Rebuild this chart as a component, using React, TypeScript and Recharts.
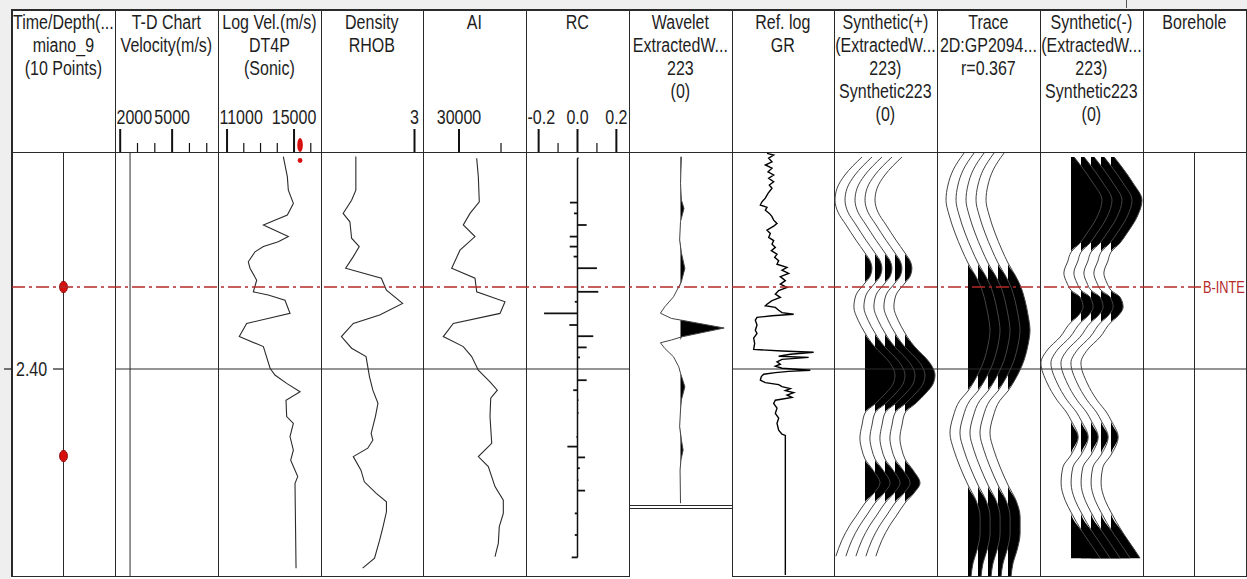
import {
  Area,
  ComposedChart,
  Line,
  ReferenceDot,
  ReferenceLine,
  XAxis,
  YAxis,
} from 'recharts';
import type { ReactNode } from 'react';

// column edges of the well-tie display, left to right
const COL_X = [12, 115, 218, 321, 423, 526, 629, 732, 834, 937, 1040, 1143, 1246];
const HEADER_TOP = 10;
const PLOT_TOP = 152;
const PLOT_BOTTOM = 576;
const WAVELET_BOTTOM = 505;

const FONT = "'Liberation Sans', Arial, sans-serif";
const SQUEEZE = 0.8; // condensed look of the log headers
const INK = '#1e1e1e';
const RULE = '#2a2a2a';
const HORIZON_RED = '#b52a2a';

// two-way time in ms
const TIME_DOMAIN: [number, number] = [2345.75, 2451.75];
const TIME_TICKS = [2400];
const WAVELET_DOMAIN: [number, number] = [-44, 44.25];

const TRACK_TITLES = [
  ['Time/Depth(...', 'miano_9', '(10 Points)'],
  ['T-D Chart', 'Velocity(m/s)'],
  ['Log Vel.(m/s)', 'DT4P', '(Sonic)'],
  ['Density', 'RHOB'],
  ['AI'],
  ['RC'],
  ['Wavelet', 'ExtractedW...', '223', '(0)'],
  ['Ref. log', 'GR'],
  ['Synthetic(+)', '(ExtractedW...', '223)', 'Synthetic223', '(0)'],
  ['Trace', '2D:GP2094...', 'r=0.367'],
  ['Synthetic(-)', '(ExtractedW...', '223)', 'Synthetic223', '(0)'],
  ['Borehole'],
];

type Scale = { domain: [number, number]; major: number[]; minor: number[]; digits: number };

const TD_SCALE: Scale = { domain: [1700, 7650], major: [2000, 5000], minor: [3000, 4000, 6000, 7000], digits: 0 };
const VEL_SCALE: Scale = { domain: [10460, 16610], major: [11000, 15000], minor: [12000, 13000, 14000, 16000], digits: 0 };
const RHOB_SCALE: Scale = { domain: [1.9, 3.1], major: [3], minor: [], digits: 0 };
const AI_SCALE: Scale = { domain: [21430, 45950], major: [30000], minor: [40000], digits: 0 };
const RC_SCALE: Scale = { domain: [-0.265, 0.265], major: [-0.2, 0, 0.2], minor: [-0.1, 0.1], digits: 1 };

// checkshot (T-D) points inside the window and the interval velocity
const TD_TIME = [2379.5, 2421.75];
const TD_VELOCITY = 2570;
const SONIC_PICK = 15360;

const HORIZON = { time: 2379.5, name: 'B-INTE' };

// [time ms, value]
const DT4P: [number, number][] = [
  [2346.9, 14360], [2351.9, 14600], [2355.3, 14660], [2358.6, 14960], [2361.5, 14600], [2364.0, 13170],
  [2366.9, 14660], [2368.2, 14060], [2369.4, 13170], [2370.7, 12670], [2373.2, 12270], [2374.8, 12370],
  [2377.8, 12770], [2380.7, 12570], [2381.5, 13460], [2382.8, 14460], [2386.1, 14760], [2388.6, 12170],
  [2391.9, 11730], [2394.4, 13170], [2399.8, 13570], [2401.5, 13860], [2403.6, 14560], [2405.7, 15360],
  [2407.8, 14520], [2411.9, 14560], [2413.6, 14960], [2416.9, 14760], [2420.3, 14960], [2422.8, 14800],
  [2426.9, 15220], [2428.6, 15060], [2429.4, 15060], [2449.8, 15120],
];

const RHOB: [number, number][] = [
  [2346.9, 2.31], [2355.3, 2.31], [2357.8, 2.26], [2361.1, 2.16], [2363.2, 2.24], [2367.3, 2.26],
  [2369.4, 2.35], [2371.9, 2.28], [2374.8, 2.19], [2377.3, 2.61], [2380.3, 2.67], [2383.6, 2.86],
  [2386.5, 2.59], [2388.6, 2.28], [2391.9, 2.14], [2394.8, 2.26], [2396.9, 2.43], [2401.9, 2.47],
  [2405.3, 2.51], [2408.6, 2.57], [2411.9, 2.54], [2416.1, 2.49], [2417.8, 2.51], [2419.8, 2.45],
  [2421.9, 2.28], [2425.3, 2.37], [2428.2, 2.41], [2431.1, 2.55], [2433.2, 2.67], [2435.7, 2.67],
  [2439.4, 2.63], [2442.8, 2.59], [2447.3, 2.53], [2449.8, 2.39],
];

const AI: [number, number][] = [
  [2347.3, 34210], [2351.9, 34600], [2358.2, 34830], [2361.1, 32620], [2364.0, 31020], [2366.9, 33810],
  [2370.3, 30240], [2374.8, 28260], [2377.3, 33810], [2380.7, 34210], [2383.2, 40950], [2386.1, 39760],
  [2388.6, 28640], [2391.9, 26260], [2394.4, 31020], [2396.9, 33020], [2400.3, 34600], [2403.2, 37380],
  [2405.3, 39120], [2407.3, 37550], [2411.9, 37380], [2418.6, 37790], [2421.9, 34600], [2424.4, 36980],
  [2429.4, 38570], [2432.8, 40550], [2436.1, 40550], [2439.4, 39590], [2443.6, 39360], [2446.9, 38570],
];

const RC: [number, number][] = [
  [2347.3, 0.005], [2358.4, -0.039], [2361.1, -0.018], [2364.0, 0.047], [2366.9, -0.04], [2369.4, -0.04],
  [2371.9, -0.02], [2374.8, 0.1], [2380.7, 0.107], [2383.2, -0.014], [2386.1, -0.172], [2389.0, -0.042],
  [2391.8, 0.081], [2394.6, 0.047], [2397.1, 0.013], [2402.8, 0.047], [2405.3, -0.022], [2407.8, 0.005],
  [2411.0, 0.005], [2417.0, -0.005], [2419.4, -0.052], [2422.1, 0.039], [2424.8, 0.012], [2427.8, 0.005],
  [2430.4, 0.039], [2436.1, -0.014], [2441.5, -0.014], [2447.1, -0.03],
];

// [lag ms, normalised amplitude]
const WAVELET: [number, number][] = [
  [-42.8, 0.02], [-36.2, 0], [-32, 0.02], [-29.9, 0.08], [-26.6, 0], [-22, -0.02], [-18.8, 0.02],
  [-14.9, 0.1], [-11.6, 0.02], [-10.3, -0.04], [-7.8, -0.16], [-5.3, -0.36], [-3.7, -0.46], [-2.4, -0.21],
  [-2, 0], [0, 1.0], [2.2, 0.03], [3, -0.21], [3.7, -0.46], [5.1, -0.36], [7.2, -0.16], [9.7, -0.04],
  [11.3, 0], [14.7, 0.1], [18, 0.02], [20.5, 0], [24.7, -0.02], [28, 0.02], [30.5, 0.06], [33, 0.01],
  [35.5, -0.01], [43.8, 0],
];

const GR_LOG: [number, number][] = [
  [2346.1, 52.5], [2346.5, 62.5], [2347.3, 55], [2348.2, 60], [2349.0, 50], [2349.8, 60], [2350.7, 54],
  [2351.5, 62.5], [2352.3, 55], [2353.2, 62.5], [2354.0, 56], [2354.8, 60], [2356.1, 54], [2357.3, 50],
  [2358.2, 45], [2359.0, 42.5], [2359.6, 52.5], [2360.3, 50], [2361.1, 56], [2361.9, 60], [2362.8, 62.5],
  [2363.6, 67.5], [2364.3, 62.5], [2365.3, 52.5], [2366.1, 57.5], [2367.1, 55], [2367.9, 62.5], [2368.8, 60],
  [2369.6, 65], [2370.4, 59], [2371.3, 67.5], [2372.1, 64], [2372.9, 70], [2373.8, 67.5], [2374.6, 82.5],
  [2375.3, 75], [2376.1, 85], [2376.9, 72.5], [2377.9, 80], [2378.8, 72.5], [2379.6, 82.5], [2380.4, 70],
  [2381.3, 65], [2382.1, 72.5], [2382.9, 60], [2383.8, 52.5], [2384.2, 50], [2384.6, 65], [2385.3, 70],
  [2385.9, 75], [2386.3, 92.5], [2386.7, 60], [2387.1, 37.5], [2387.8, 35], [2389.0, 37.5], [2390.3, 35],
  [2391.1, 37.5], [2392.3, 32.5], [2393.6, 34], [2395.1, 32.5], [2395.5, 75], [2395.8, 122.5], [2396.3, 87.5],
  [2396.8, 70], [2397.1, 115], [2397.6, 75], [2398.2, 67.5], [2398.8, 72.5], [2399.3, 65], [2399.8, 75],
  [2400.3, 117.5], [2400.6, 85], [2400.9, 65], [2401.3, 47.5], [2401.9, 44], [2402.8, 42.5], [2403.4, 50],
  [2403.9, 70], [2404.4, 75], [2404.9, 87.5], [2405.4, 80], [2405.9, 92.5], [2406.5, 82.5], [2407.1, 90],
  [2407.8, 65], [2408.6, 62.5], [2409.8, 67.5], [2411.1, 65], [2412.3, 70], [2413.6, 67.5], [2415.3, 70],
  [2416.3, 75], [2416.6, 80], [2451.5, 80],
];

const SYNTHETIC_POS: [number, number][] = [
  [2347.0, -0.1], [2351.5, -0.67], [2354.8, -0.93], [2357.8, -1.0], [2360.8, -0.9], [2364.0, -0.63],
  [2367.8, -0.3], [2371.0, 0], [2373.0, 0.17], [2374.8, 0.23], [2376.8, 0.17], [2378.5, 0], [2381.5, -0.3],
  [2384.5, -0.37], [2387.8, -0.23], [2391.0, 0], [2393.3, 0.2], [2395.3, 0.43], [2397.3, 0.7], [2399.3, 0.9],
  [2401.5, 1.0], [2403.8, 0.93], [2406.0, 0.7], [2408.5, 0.37], [2411.0, 0], [2414.0, -0.1], [2417.3, -0.17],
  [2420.3, -0.1], [2422.5, 0], [2425.3, 0.27], [2428.5, 0.5], [2431.0, 0.3], [2433.5, 0], [2436.5, -0.27],
  [2439.0, -0.5], [2442.8, -0.77], [2446.8, -0.97],
];

const SEISMIC_TRACE: [number, number][] = [
  [2346.0, -0.18], [2350.3, -0.68], [2354.0, -0.91], [2357.8, -1.0], [2361.5, -0.86], [2366.0, -0.59],
  [2370.3, -0.27], [2373.5, 0], [2376.5, 0.32], [2379.0, 0.55], [2382.8, 0.77], [2386.5, 0.91],
  [2390.3, 1.0], [2394.0, 0.91], [2397.8, 0.73], [2400.8, 0.5], [2403.5, 0.23], [2405.5, 0],
  [2407.8, -0.36], [2412.0, -0.68], [2416.0, -0.82], [2420.3, -0.64], [2424.5, -0.36], [2429.0, 0],
  [2432.8, 0.36], [2437.0, 0.55], [2441.0, 0.55], [2445.3, 0.41], [2448.5, 0.23], [2451.8, 0.14],
];

const SYNTHETIC_NEG: [number, number][] = [
  [2347.0, 0.1], [2349.5, 0.35], [2353.5, 0.71], [2357.8, 1.0], [2362.0, 0.84], [2366.0, 0.52],
  [2368.5, 0.29], [2370.8, 0], [2373.0, -0.1], [2376.0, -0.23], [2378.5, -0.13], [2380.3, 0],
  [2382.0, 0.29], [2384.5, 0.39], [2387.0, 0.19], [2388.3, 0], [2392.0, -0.35], [2395.3, -0.77],
  [2398.5, -0.97], [2403.5, -0.77], [2407.8, -0.45], [2411.0, -0.13], [2412.8, 0], [2417.0, 0.23],
  [2421.5, 0], [2424.5, -0.26], [2428.5, -0.32], [2432.8, -0.19], [2435.8, 0], [2441.0, 0.39],
  [2445.3, 0.77], [2447.3, 0.94],
];

// wiggle display: pixels per unit amplitude for each panel
const SYN_POS_GAIN = 30;
const TRACE_GAIN = 22;
const SYN_NEG_GAIN = 31;
const TRACE_COUNT = 5;
const TRACE_GAP_PX = 10;
const FIRST_TRACE_PX = 31;

const rows = (pts: [number, number][]) => pts.map(([t, v]) => ({ t, v }));

const textWidth = (s: string, size: number) =>
  [...s].reduce((w, c) => w + (c === '.' ? 0.278 : c === '-' ? 0.333 : 0.556), 0) * size * SQUEEZE;

function scaleTick(scale: Scale, width: number) {
  return (p: any) => {
    const v = p.payload.value;
    const major = scale.major.includes(v);
    const label = Number(v).toFixed(scale.digits);
    const w = textWidth(label, 20);
    const x0 = Math.min(Math.max(p.x - w / 2, 1.5), width - 1.5 - w);
    return (
      <g>
        <line x1={p.x} x2={p.x} y1={p.y} y2={p.y - (major ? 23 : 9)} stroke="#111" strokeWidth={major ? 2 : 1.2} />
        {major && (
          <text transform={`translate(${x0} ${p.y - 28}) scale(${SQUEEZE} 1)`} fontFamily={FONT} fontSize={20} fill={INK}>
            {label}
          </text>
        )}
      </g>
    );
  };
}

const timeTick = (p: any) => (
  <g>
    <line x1={p.x} x2={p.x + 8} y1={p.y} y2={p.y} stroke={INK} strokeWidth={1.2} />
    <text transform={`translate(${p.x + 12} ${p.y + 7}) scale(${SQUEEZE} 1)`} fontFamily={FONT} fontSize={20} fill={INK}>
      {(p.payload.value / 1000).toFixed(2)}
    </text>
    <line x1={p.x + 49} x2={p.x + 59} y1={p.y} y2={p.y} stroke={INK} strokeWidth={1.2} />
  </g>
);

const tdDot = (p: any) => (
  <ellipse cx={p.cx} cy={p.cy} rx={4} ry={5.8} fill="#d6100f" stroke="#7d0a0a" strokeWidth={0.8} />
);

const sonicPick = (p: any) => (
  <g fill="#d6100f">
    <ellipse cx={p.cx} cy={p.cy - 7} rx={2.8} ry={7} />
    <circle cx={p.cx} cy={p.cy + 8.5} r={2.4} />
  </g>
);

const horizonLabel = (p: any) => {
  const vb = p.viewBox;
  return (
    <text transform={`translate(${vb.x + vb.width + 2} ${vb.y + 6}) scale(${SQUEEZE} 1)`} fontFamily={FONT} fontSize={16} fill={HORIZON_RED}>
      {HORIZON.name}
    </text>
  );
};

function TrackTitle({ index, lines }: { index: number; lines: string[] }) {
  const left = COL_X[index];
  const width = COL_X[index + 1] - left;
  const boxW = width / SQUEEZE;
  return (
    <div
      style={{
        position: 'absolute',
        left: left + width / 2 - boxW / 2,
        top: HEADER_TOP + 1,
        width: boxW,
        textAlign: 'center',
        fontFamily: FONT,
        fontSize: 20,
        lineHeight: '23px',
        color: INK,
        transform: `scaleX(${SQUEEZE})`,
        whiteSpace: 'nowrap',
      }}
    >
      {lines.map((l, i) => (
        <div key={i}>{l}</div>
      ))}
    </div>
  );
}

interface TrackProps {
  index: number;
  domain?: [number, number];
  scale?: Scale;
  grid?: boolean;
  yDomain?: [number, number];
  bottom?: number;
  children?: ReactNode;
}

function Track({ index, domain = [-1, 1], scale, grid = true, yDomain = TIME_DOMAIN, bottom = PLOT_BOTTOM, children }: TrackProps) {
  const left = COL_X[index];
  const width = COL_X[index + 1] - left;
  const head = PLOT_TOP - HEADER_TOP;
  return (
    <div style={{ position: 'absolute', left, top: HEADER_TOP }}>
      <ComposedChart
        layout="vertical"
        width={width}
        height={bottom - HEADER_TOP}
        margin={{ top: scale ? 0 : head, right: 0, bottom: 0, left: 0 }}
      >
        {scale ? (
          <XAxis
            type="number"
            orientation="top"
            height={head}
            domain={scale.domain}
            allowDataOverflow
            ticks={[...scale.major, ...scale.minor]}
            interval={0}
            tickLine={false}
            axisLine={false}
            tickSize={0}
            tickMargin={0}
            tick={scaleTick(scale, width)}
          />
        ) : (
          <XAxis type="number" domain={domain} allowDataOverflow hide />
        )}
        <YAxis type="number" dataKey="t" domain={yDomain} allowDataOverflow hide />
        {grid && TIME_TICKS.map((t) => <ReferenceLine key={t} y={t} stroke={RULE} strokeWidth={1} />)}
        {children}
      </ComposedChart>
    </div>
  );
}

function LogTrack({ index, scale, domain, points, stroke = '#2b2b2b', width = 1.1 }: { index: number; scale?: Scale; domain?: [number, number]; points: [number, number][]; stroke?: string; width?: number }) {
  return (
    <Track index={index} scale={scale} domain={domain}>
      <Line data={rows(points)} dataKey="v" type="linear" stroke={stroke} strokeWidth={width} dot={false} activeDot={false} isAnimationActive={false} />
    </Track>
  );
}

// variable-area wiggle panel: the same trace repeated, positive lobes filled black
function WiggleTrack({ index, points, gain }: { index: number; points: [number, number][]; gain: number }) {
  const width = COL_X[index + 1] - COL_X[index];
  const domain: [number, number] = [-FIRST_TRACE_PX / gain, (width - FIRST_TRACE_PX) / gain];
  const gap = TRACE_GAP_PX / gain;
  const data = rows(points);
  return (
    <Track index={index} domain={domain}>
      {Array.from({ length: TRACE_COUNT }, (_, k) => [
        <Area
          key={`fill${k}`}
          data={data}
          dataKey={(d: { v: number }) => [k * gap, k * gap + Math.max(0, d.v)]}
          type="monotone"
          fill="#000"
          fillOpacity={1}
          stroke="none"
          activeDot={false}
          isAnimationActive={false}
        />,
        <Line
          key={`line${k}`}
          data={data}
          dataKey={(d: { v: number }) => k * gap + d.v}
          type="monotone"
          stroke="#444"
          strokeWidth={1}
          dot={false}
          activeDot={false}
          isAnimationActive={false}
        />,
      ])}
    </Track>
  );
}

function TimeTrack() {
  return (
    <div style={{ position: 'absolute', left: 0, top: HEADER_TOP }}>
      <ComposedChart layout="vertical" width={COL_X[1]} height={PLOT_BOTTOM - HEADER_TOP} margin={{ top: PLOT_TOP - HEADER_TOP, right: 0, bottom: 0, left: 0 }}>
        <XAxis type="number" domain={[-1, 1]} allowDataOverflow hide />
        <YAxis
          type="number"
          dataKey="t"
          domain={TIME_DOMAIN}
          allowDataOverflow
          width={COL_X[0]}
          ticks={TIME_TICKS}
          interval={0}
          tickSize={8}
          tickMargin={0}
          axisLine={false}
          tickLine={false}
          tick={timeTick}
        />
        <ReferenceLine x={0} stroke={RULE} strokeWidth={1} />
        {TD_TIME.map((t) => (
          <ReferenceDot key={t} x={0} y={t} r={5} shape={tdDot} />
        ))}
      </ComposedChart>
    </div>
  );
}

function HorizonOverlay() {
  const width = 1247 - COL_X[0];
  return (
    <div style={{ position: 'absolute', left: COL_X[0], top: PLOT_TOP }}>
      <ComposedChart layout="vertical" width={width} height={PLOT_BOTTOM - PLOT_TOP} margin={{ top: 0, right: 46, bottom: 0, left: 0 }}>
        <XAxis type="number" domain={[0, 1]} allowDataOverflow hide />
        <YAxis type="number" dataKey="t" domain={TIME_DOMAIN} allowDataOverflow hide />
        <ReferenceLine y={HORIZON.time} stroke={HORIZON_RED} strokeWidth={1.5} strokeDasharray="13 4 3 4" label={horizonLabel} />
      </ComposedChart>
    </div>
  );
}

function Frame() {
  const bar = (key: string, left: number, top: number, width: number, height: number, background = RULE) => (
    <div key={key} style={{ position: 'absolute', left, top, width, height, background }} />
  );
  return (
    <>
      {bar('band', 0, 0, 1247, 9, '#efefef')}
      {bar('strip', 0, 0, 11, 579, '#efefef')}
      {bar('mark', 1126, 0, 1, 8, '#555')}
      {bar('top', 11, 9, 1236, 2)}
      {bar('left', 11, 9, 2, 568)}
      {COL_X.slice(1).map((x) => bar(`col${x}`, x, 10, 1, 567))}
      {bar('head', 12, PLOT_TOP, 1235, 1)}
      {bar('foot1', 12, PLOT_BOTTOM, COL_X[6] - 12, 1)}
      {bar('foot2', COL_X[7], PLOT_BOTTOM, 1247 - COL_X[7], 1)}
      {bar('wav1', COL_X[6], WAVELET_BOTTOM, COL_X[7] - COL_X[6], 1)}
      {bar('wav2', COL_X[6], WAVELET_BOTTOM + 3, COL_X[7] - COL_X[6], 1)}
    </>
  );
}

export default function App() {
  return (
    <div style={{ position: 'fixed', left: 0, top: 0, width: 1247, height: 579, background: '#fff', overflow: 'hidden' }}>
      <Frame />
      {TRACK_TITLES.map((lines, i) => (
        <TrackTitle key={i} index={i} lines={lines} />
      ))}

      <TimeTrack />

      <Track index={1} scale={TD_SCALE}>
        <ReferenceLine x={TD_VELOCITY} stroke={RULE} strokeWidth={1} />
      </Track>

      <Track index={2} scale={VEL_SCALE}>
        <Line data={rows(DT4P)} dataKey="v" type="linear" stroke="#2b2b2b" strokeWidth={1.1} dot={false} activeDot={false} isAnimationActive={false} />
        <ReferenceDot x={SONIC_PICK} y={TIME_DOMAIN[0]} r={3} ifOverflow="visible" shape={sonicPick} />
      </Track>

      <LogTrack index={3} scale={RHOB_SCALE} points={RHOB} />
      <LogTrack index={4} scale={AI_SCALE} points={AI} />

      <Track index={5} scale={RC_SCALE}>
        <ReferenceLine
          segment={[{ x: 0, y: RC[0][0] }, { x: 0, y: RC[RC.length - 1][0] }]}
          stroke="#111"
          strokeWidth={1.5}
        />
        {RC.map(([t, rc]) => (
          <ReferenceLine key={t} segment={[{ x: 0, y: t }, { x: rc, y: t }]} stroke="#111" strokeWidth={1.8} />
        ))}
      </Track>

      <Track index={6} domain={[-1.18, 1.18]} yDomain={WAVELET_DOMAIN} bottom={WAVELET_BOTTOM} grid={false}>
        <Area
          data={rows(WAVELET)}
          dataKey={(d: { v: number }) => [0, Math.max(0, d.v)]}
          type="linear"
          fill="#000"
          fillOpacity={1}
          stroke="none"
          activeDot={false}
          isAnimationActive={false}
        />
        <Line data={rows(WAVELET)} dataKey="v" type="linear" stroke="#444" strokeWidth={1} dot={false} activeDot={false} isAnimationActive={false} />
      </Track>

      <LogTrack index={7} domain={[0, 153]} points={GR_LOG} stroke="#000" width={1.4} />

      <WiggleTrack index={8} points={SYNTHETIC_POS} gain={SYN_POS_GAIN} />
      <WiggleTrack index={9} points={SEISMIC_TRACE} gain={TRACE_GAIN} />
      <WiggleTrack index={10} points={SYNTHETIC_NEG} gain={SYN_NEG_GAIN} />

      <Track index={11}>
        <ReferenceLine x={0} stroke={RULE} strokeWidth={1} />
      </Track>

      <HorizonOverlay />
    </div>
  );
}
